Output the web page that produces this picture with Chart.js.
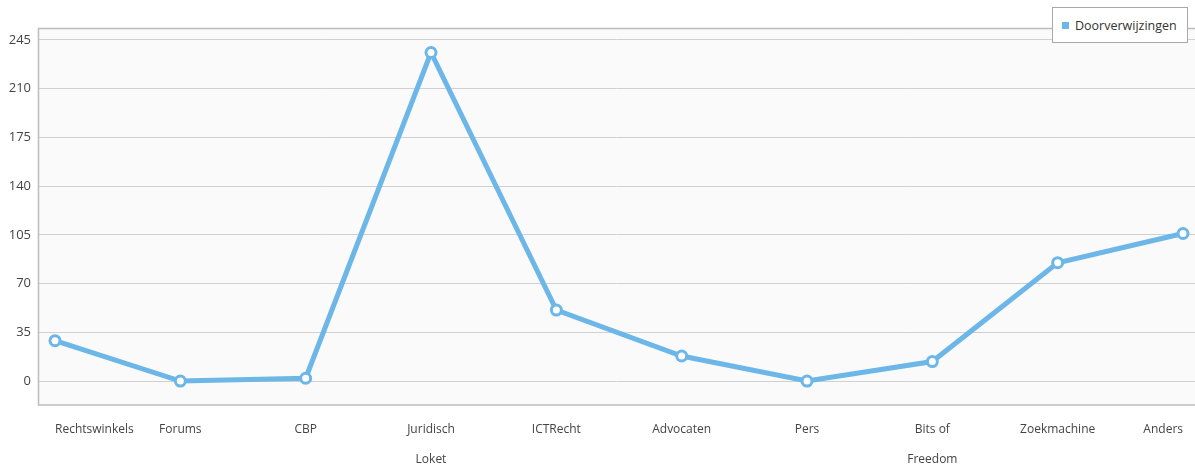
<!DOCTYPE html>
<html>
<head>
<meta charset="utf-8">
<script src="https://cdn.jsdelivr.net/npm/chart.js@4/dist/chart.umd.min.js"></script>
<style>
	html, body { margin: 0; padding: 0; background: #ffffff; overflow: hidden; }
	#wrap { position: relative; width: 1195px; height: 467px; }
	#legend {
		position: absolute; left: 1052px; top: 7px; width: 136px; height: 36px;
		border: 1px solid #a8a8a8; background: #ffffff; box-sizing: border-box;
		font: 12.5px "Open Sans", sans-serif; color: #333;
		display: flex; align-items: center; padding-left: 9px;
	}
	#legend span.box { width: 7px; height: 7px; background: #6cb6e8; margin-right: 6px; }
</style>
</head>
<body>
<div id="wrap">
	<canvas id="chart" width="1195" height="467"></canvas>
	<div id="legend"><span class="box"></span>Doorverwijzingen</div>
</div>
<script>
// Data
const categories = ['Rechtswinkels', 'Forums', 'CBP', ['Juridisch', 'Loket'], 'ICTRecht', 'Advocaten', 'Pers', ['Bits of', 'Freedom'], 'Zoekmachine', 'Anders'];
const referrals = [29, 0, 2, 236, 51, 18, 0, 14, 85, 106];
const yTicks = [0, 35, 70, 105, 140, 175, 210, 245];

const lineColor = '#6cb6e8';
const textColor = '#444444';
const fontFamily = '"Open Sans", sans-serif';

// Plot background and frame
const framePlugin = {
	id: 'frame',
	beforeDraw(chart) {
		const { ctx, chartArea: a } = chart;
		ctx.save();
		ctx.fillStyle = '#fafafa';
		ctx.fillRect(a.left, a.top, a.right - a.left, a.bottom - a.top);
		ctx.restore();
	},
	afterDatasetsDraw(chart) {
		const { ctx, chartArea: a } = chart;
		ctx.save();
		ctx.strokeStyle = '#bdbdbd';
		ctx.lineWidth = 1.5;
		ctx.beginPath();
		ctx.moveTo(a.right, a.top + 0.5);
		ctx.lineTo(a.left + 0.5, a.top + 0.5);
		ctx.lineTo(a.left + 0.5, a.bottom);
		ctx.lineTo(a.right, a.bottom);
		ctx.stroke();
		ctx.restore();
	}
};

const ctx = document.getElementById('chart').getContext('2d');
new Chart(ctx, {
	type: 'line',
	data: {
		datasets: [{
			label: 'Doorverwijzingen',
			data: referrals.map((v, i) => ({ x: i, y: v })),
			borderColor: lineColor,
			backgroundColor: '#ffffff',
			borderWidth: 5,
			tension: 0,
			pointRadius: 5,
			pointBorderWidth: 3,
			pointBackgroundColor: '#ffffff',
			pointBorderColor: lineColor,
			clip: false
		}]
	},
	plugins: [framePlugin],
	options: {
		responsive: false,
		animation: false,
		layout: { autoPadding: false, padding: { top: 28, right: 0, left: 0, bottom: 0 } },
		plugins: {
			legend: { display: false },
			tooltip: { enabled: false }
		},
		scales: {
			x: {
				type: 'linear',
				min: -0.1356,
				max: 9.0957,
				afterBuildTicks: (scale) => {
					scale.ticks = categories.map((c, i) => ({ value: i }));
				},
				afterFit: (scale) => {
					scale.height = 62;
					scale.paddingLeft = 0;
					scale.paddingRight = 0;
				},
				grid: { display: false, drawTicks: false },
				border: { display: false },
				ticks: {
					autoSkip: false,
					maxRotation: 0,
					align: 'inner',
					padding: 10,
					color: textColor,
					font: { family: fontFamily, size: 12, lineHeight: 2.5 },
					callback: (value) => categories[value]
				}
			},
			y: {
				min: -17.2,
				max: 253.6,
				afterBuildTicks: (scale) => {
					scale.ticks = yTicks.map(v => ({ value: v }));
				},
				afterFit: (scale) => { scale.width = 38; },
				grid: { color: '#d0d0d0', lineWidth: 1, drawTicks: false },
				border: { display: false },
				ticks: {
					padding: 7,
					color: textColor,
					font: { family: fontFamily, size: 13 }
				}
			}
		}
	}
});
</script>
</body>
</html>
